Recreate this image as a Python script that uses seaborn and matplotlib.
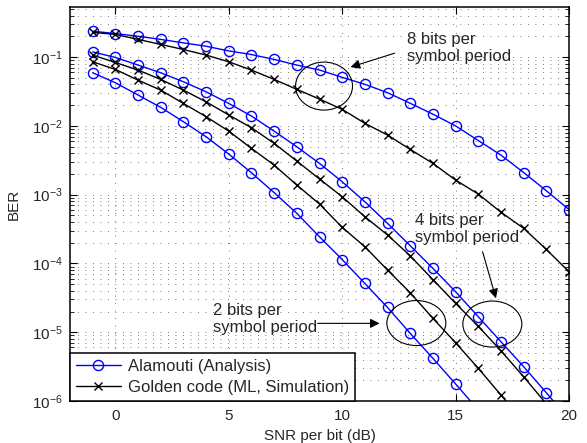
import numpy as np
import pandas as pd
import matplotlib
matplotlib.use("Agg")
import matplotlib.pyplot as plt
import seaborn as sns
from matplotlib.patches import Ellipse
from matplotlib.ticker import LogLocator, FixedLocator, NullFormatter, LogFormatterSciNotation

# ---------------- data ----------------
snr_8 = list(range(-1, 21))
alamouti_8 = [0.238, 0.220, 0.201, 0.181, 0.161, 0.144, 0.123, 0.109, 0.0925, 0.0766,
              0.0649, 0.0508, 0.0402, 0.0304, 0.0213, 0.0148, 0.0100, 0.00612, 0.00376,
              0.00210, 0.00114, 0.000607]
golden_8 = [0.229, 0.214, 0.181, 0.153, 0.129, 0.107, 0.0855, 0.0647, 0.0474, 0.0340,
            0.0245, 0.0174, 0.0109, 0.00735, 0.00455, 0.00285, 0.00163, 0.00102,
            0.000556, 0.000324, 0.000160, 0.0000757]

snr_a4 = list(range(-1, 21))
alamouti_4 = [0.119, 0.0989, 0.0766, 0.0592, 0.0438, 0.0313, 0.0212, 0.0139, 0.00839,
              0.00497, 0.00285, 0.00154, 0.000789, 0.000383, 0.000181, 8.49e-5, 3.88e-5,
              1.68e-5, 7.28e-6, 3.16e-6, 1.32e-6, 5.37e-7]
snr_g4 = list(range(-1, 20))
golden_4 = [0.107, 0.0836, 0.0647, 0.0474, 0.0331, 0.0224, 0.0144, 0.00940, 0.00557,
            0.00308, 0.00169, 0.000933, 0.000478, 0.000259, 0.000129, 5.81e-5, 2.63e-5,
            1.22e-5, 5.37e-6, 2.25e-6, 9.12e-7]

snr_a2 = list(range(-1, 17))
alamouti_2 = [0.0592, 0.0424, 0.0281, 0.0186, 0.0115, 0.00695, 0.00389, 0.00208,
              0.00107, 0.000535, 0.000244, 0.000114, 5.12e-5, 2.29e-5, 9.62e-6,
              4.17e-6, 1.77e-6, 7.41e-7]
snr_g2 = list(range(-1, 19))
golden_2 = [0.0855, 0.0662, 0.0463, 0.0331, 0.0212, 0.0136, 0.00839, 0.00471, 0.00269,
            0.00138, 0.000730, 0.000335, 0.000175, 8.02e-5, 3.75e-5, 1.59e-5, 7.03e-6,
            2.99e-6, 1.22e-6, 5.01e-7]

legend_labels = ["Alamouti (Analysis)", "Golden code (ML, Simulation)"]
xticks = [0, 5, 10, 15, 20]

# ---------------- style ----------------
sns.set_style("white")
plt.rcParams["font.family"] = ["Liberation Sans", "DejaVu Sans"]
plt.rcParams["mathtext.fontset"] = "custom"
plt.rcParams["mathtext.rm"] = "Liberation Sans"
plt.rcParams["mathtext.it"] = "Liberation Sans:italic"

fig = plt.figure(figsize=(5.87, 4.43), dpi=100)
ax = fig.add_axes([70 / 587, 1 - 401 / 443, 499 / 587, (401 - 7.3) / 443])

blue_kw = dict(color="blue", marker="o", markersize=7.3, markerfacecolor="none",
               markeredgecolor="blue", markeredgewidth=1.0, linewidth=1.0)
black_kw = dict(color="black", marker="x", markersize=5.5, markeredgecolor="black",
                markeredgewidth=1.0, linewidth=1.0)

series = [
    (snr_8, alamouti_8, blue_kw),
    (snr_8, golden_8, black_kw),
    (snr_a4, alamouti_4, blue_kw),
    (snr_g4, golden_4, black_kw),
    (snr_a2, alamouti_2, blue_kw),
    (snr_g2, golden_2, black_kw),
]
for x, y, kw in series:
    df = pd.DataFrame({"snr": x, "ber": y})
    sns.lineplot(data=df, x="snr", y="ber", ax=ax, **kw)

ax.set_yscale("log")
ax.set_xlim(-2, 20)
ax.set_ylim(1e-6, 0.53)

ax.xaxis.set_major_locator(FixedLocator(xticks))
ax.yaxis.set_major_locator(LogLocator(base=10, numticks=20))
ax.yaxis.set_minor_locator(LogLocator(base=10, subs=np.arange(2, 10), numticks=20))
ax.yaxis.set_major_formatter(LogFormatterSciNotation())
ax.yaxis.set_minor_formatter(NullFormatter())

ax.tick_params(which="both", direction="in", top=True, right=True, bottom=True, left=True,
               labelsize=11, color="black")
ax.tick_params(which="major", length=5, width=0.8)
ax.tick_params(which="minor", length=3, width=0.6)
ax.tick_params(axis="y", pad=5)
ax.tick_params(axis="x", pad=6)

grid_kw = dict(color="0.3", linewidth=0.6, linestyle=(0, (1, 8)))
ax.grid(True, which="major", axis="both", **grid_kw)
ax.grid(True, which="minor", axis="y", **grid_kw)

for s in ax.spines.values():
    s.set_color("black")
    s.set_linewidth(1.1)

ax.set_xlabel("SNR per bit (dB)", fontsize=11, labelpad=4)
ax.set_ylabel("BER", fontsize=11, labelpad=8)

# legend
lines = ax.get_lines()
leg = ax.legend([lines[0], lines[1]], legend_labels, loc="lower left", borderaxespad=0,
                fancybox=False, framealpha=1, edgecolor="black", fontsize=12,
                handlelength=2.7, handletextpad=0.4, borderpad=0.35, labelspacing=0.4)
leg.get_frame().set_linewidth(1.1)

# annotations
ann_kw = dict(fontsize=12, ha="left", va="center", linespacing=1.15)
arrow = dict(arrowstyle="-|>", color="black", lw=0.8, mutation_scale=14, shrinkA=0, shrinkB=0)

ax.text(12.84, 0.135, "8 bits per\nsymbol period", **ann_kw)
ax.annotate("", xy=(10.37, 0.0716), xytext=(12.31, 0.114), arrowprops=arrow)

ax.text(13.23, 3.16e-4, "4 bits per\nsymbol period", **ann_kw)
ax.annotate("", xy=(16.78, 3.11e-5), xytext=(16.19, 1.48e-4), arrowprops=arrow)

ax.text(4.31, 1.556e-5, "2 bits per\nsymbol period", **ann_kw)
ax.annotate("", xy=(11.65, 1.345e-5), xytext=(8.92, 1.345e-5), arrowprops=arrow)

axw, axh = 499.0, 393.7
for (cx, cy), w, h in [((9.20, 0.0379), 57, 48), ((16.62, 1.315e-5), 59, 46),
                       ((13.27, 1.36e-5), 59, 45)]:
    c = ax.transAxes.inverted().transform(ax.transData.transform((cx, cy)))
    ax.add_patch(Ellipse(c, w / axw, h / axh, transform=ax.transAxes, fill=False,
                         edgecolor="black", linewidth=0.8, zorder=5))

fig.savefig("out.png", dpi=100)
